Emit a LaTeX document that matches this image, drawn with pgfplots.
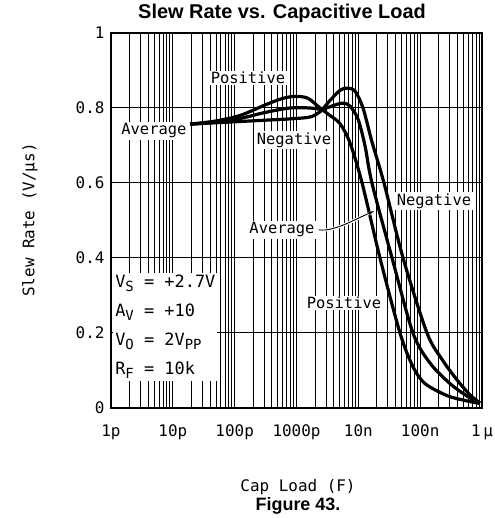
\documentclass[border=0pt]{standalone}
\usepackage{fontspec}
\setmainfont{Liberation Sans}
\newfontfamily\mono{DejaVu Sans Mono}
\usepackage{pgfplots}
\pgfplotsset{compat=1.18}
\usetikzlibrary{arrows.meta}
\newcommand{\sbs}[1]{\raisebox{-0.45ex}{\fontsize{14}{14}\selectfont #1}}
\begin{document}
\begin{tikzpicture}[x=1bp,y=1bp]
\useasboundingbox (0,0) rectangle (495,518);
\begin{axis}[
  at={(111bp,110bp)}, anchor=south west,
  scale only axis, width=371bp, height=375bp,
  xmode=log, xmin=1e-12, xmax=1e-6, ymin=0, ymax=1,
  xtick={1e-12,1e-11,1e-10,1e-9,1e-8,1e-7,1e-6},
  xticklabels={1p,10p,100p,1000p,10n,100n,1\,µ},
  ytick={0,0.2,0.4,0.6,0.8,1},
  yticklabels={0,0.2,0.4,0.6,0.8,1},
  major tick length=0pt, minor tick length=0pt,
  xmajorgrids, xminorgrids, ymajorgrids,
  grid style={black, line width=1bp},
  minor grid style={black, line width=1bp},
  axis line style={line width=1.5bp},
  tick label style={font=\mono\fontsize{16}{16}\selectfont},
  xticklabel style={yshift=-13bp},
  yticklabel style={xshift=-3bp},
  clip=false,
]
\addplot[smooth, line width=3.2bp, black] coordinates {
 (1.90e-11,0.757) (4.81e-11,0.765) (1.22e-10,0.780) (3.10e-10,0.808)
 (5.83e-10,0.825) (9.46e-10,0.831) (1.53e-9,0.826) (2.40e-9,0.800)
 (3.48e-9,0.780) (5.06e-9,0.758) (7.33e-9,0.707) (1.15e-8,0.600)
 (2.24e-8,0.400) (4.72e-8,0.200) (7.65e-8,0.110) (1.20e-7,0.065)
 (2.72e-7,0.033) (5.31e-7,0.020) (9.29e-7,0.012)};
\addplot[smooth, line width=3.2bp, black] coordinates {
 (1.90e-11,0.757) (4.81e-11,0.762) (1.22e-10,0.772) (3.10e-10,0.788)
 (7.85e-10,0.800) (1.65e-9,0.800) (2.59e-9,0.797) (4.20e-9,0.808)
 (5.65e-9,0.813) (7.33e-9,0.805) (9.89e-9,0.770) (1.28e-8,0.700)
 (1.66e-8,0.600) (3.51e-8,0.400) (7.65e-8,0.200) (1.44e-7,0.120)
 (3.04e-7,0.065) (5.94e-7,0.030) (9.29e-7,0.013)};
\addplot[smooth, line width=3.2bp, black] coordinates {
 (1.90e-11,0.757) (1.22e-10,0.764) (7.85e-10,0.771) (1.65e-9,0.776)
 (2.40e-9,0.790) (3.48e-9,0.820) (5.06e-9,0.847) (6.56e-9,0.853)
 (8.83e-9,0.845) (1.19e-8,0.800) (1.66e-8,0.710) (2.60e-8,0.600)
 (5.29e-8,0.400) (1.29e-7,0.200) (2.25e-7,0.130) (3.94e-7,0.075)
 (6.40e-7,0.035) (9.29e-7,0.013)};
% arrow for Average
\draw[white, line width=3bp] (axis cs:2.4e-9,0.475) .. controls (axis cs:4e-9,0.47) and (axis cs:8e-9,0.50) .. (axis cs:1.75e-8,0.523);
\draw[black, line width=0.9bp, -{Stealth[length=7bp,width=4bp]}] (axis cs:2.3e-9,0.475) .. controls (axis cs:4e-9,0.47) and (axis cs:8e-9,0.50) .. (axis cs:1.8e-8,0.525);
\begin{scope}[every node/.style={fill=white, inner sep=1.5bp, font=\mono\fontsize{15.5}{15.5}\selectfont}]
\node at (axis cs:1.64e-10,0.88) {Positive};
\node at (axis cs:4.95e-12,0.739) {Average};
\node at (axis cs:9.12e-10,0.715) {Negative};
\node at (axis cs:1.67e-7,0.552) {Negative};
\node at (axis cs:5.83e-10,0.475) {Average};
\node at (axis cs:5.86e-9,0.28) {Positive};
\end{scope}
\node[fill=white, anchor=north west, inner sep=2bp, align=left,
      font=\mono\fontsize{17}{29}\selectfont] at (axis cs:1.08e-12,0.36)
 {V\sbs{S} = +2.7V\\ A\sbs{V} = +10\\ V\sbs{O} = 2V\sbs{PP}\\ R\sbs{F} = 10k};
\end{axis}
\node[font=\bfseries\fontsize{20}{20}\selectfont] at (282,505) {Slew Rate vs. Capacitive Load};
\node[font=\mono\fontsize{16}{16}\selectfont, rotate=90] at (30,298) {Slew Rate (V/µs)};
\node[font=\mono\fontsize{16}{16}\selectfont] at (298,31) {Cap Load (F)};
\node[font=\bfseries\fontsize{18}{18}\selectfont] at (298,12) {Figure 43.};
\end{tikzpicture}
\end{document}
